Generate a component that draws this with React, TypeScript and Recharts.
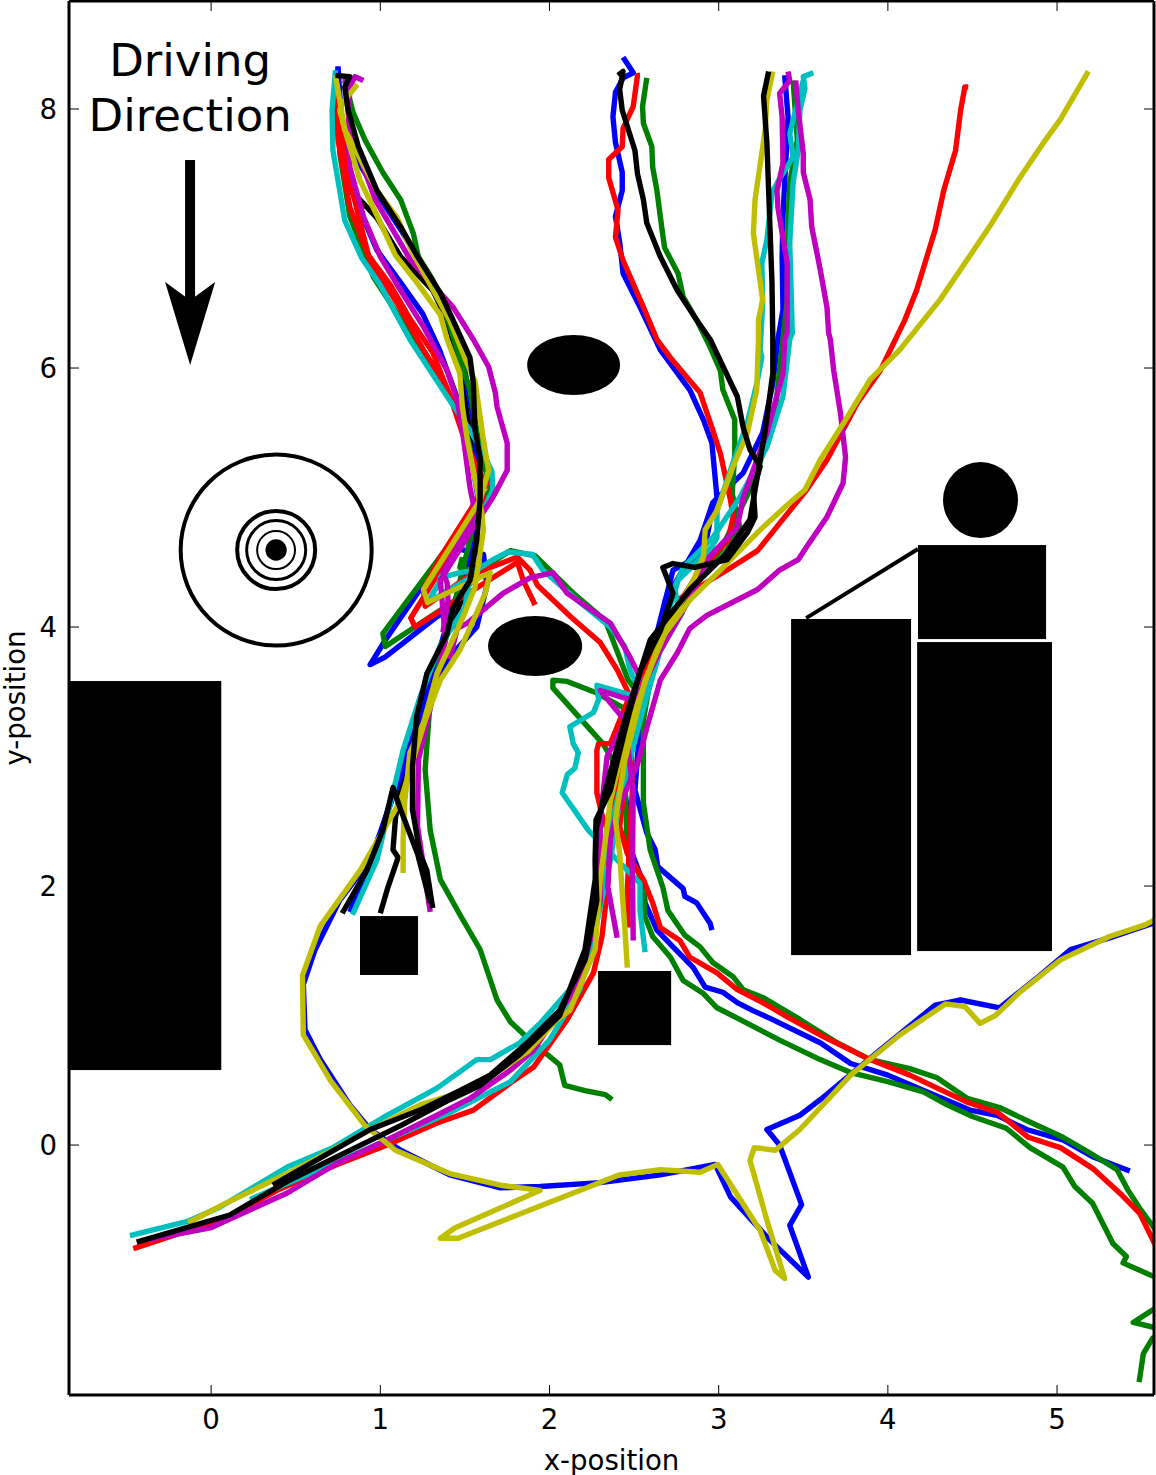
import React from "react";
import { LineChart, Line, XAxis, YAxis, ReferenceArea, ReferenceLine, ReferenceDot } from "recharts";

const xTicks = [0, 1, 2, 3, 4, 5];
const yTicks = [0, 2, 4, 6, 8];
const FONT = "'DejaVu Sans', sans-serif";

// ---- trajectories, [x-position, y-position] ----
const blueTopA = [[.75,8.33],[.745,8.07],[.79,7.76],[.88,7.57],[.98,7.35],[1.12,7.07],[1.265,6.76],[1.41,6.37],[1.5,5.98],[1.55,5.6],[1.59,5.06],[1.53,4.79],[1.235,4.29],[1.03,3.9],[.94,3.71],[1.03,3.77],[1.335,4.08],[1.425,4.15]];
const blueTopB = [[.75,8.32],[.775,7.84],[.83,7.37],[.98,6.91],[1.12,6.66],[1.25,6.42],[1.35,6.14],[1.46,5.75],[1.53,5.37],[1.58,4.98],[1.53,4.52],[1.385,3.98],[1.28,3.51],[1.12,2.9],[.97,2.28],[.82,1.8]];
const blueReturn = [[1.44,4.61],[1.61,4.56],[1.63,4.32],[1.57,4],[1.41,3.77],[1.29,3.44],[1.18,3.05],[1.09,2.74],[.94,2.2],[.76,1.89],[.615,1.51],[.545,1.24],[.555,.89],[.645,.66],[.82,.31],[.94,.12],[1.12,-.04],[1.41,-.23],[1.71,-.33],[1.945,-.32],[2.3,-.29],[2.655,-.23],[2.98,-.15],[3.07,-.4],[3.3,-.73],[3.53,-1.02],[3.42,-.62],[3.49,-.46],[3.36,0],[3.285,.12],[3.48,.23],[3.6,.35],[3.95,.73],[4.28,1.08],[4.43,1.12],[4.66,1.06],[4.9,1.31],[5.08,1.51],[5.31,1.6],[5.585,1.72]];
const blueCenter = [[2.435,8.4],[2.495,8.28],[2.435,8.24],[2.39,8.13],[2.375,7.94],[2.39,7.74],[2.43,7.51],[2.43,7.37],[2.39,7.17],[2.415,6.97],[2.435,6.73],[2.535,6.47],[2.655,6.14],[2.83,5.83],[2.91,5.6],[2.96,5.42],[2.99,5],[2.965,4.93],[2.93,4.69],[2.86,4.53],[2.73,4.44],[2.685,4.21],[2.64,3.92],[2.55,3.51],[2.535,3.26],[2.505,2.74],[2.575,2.41],[2.625,2.28],[2.64,2.15],[2.79,1.98],[2.8,1.92],[2.87,1.87],[2.95,1.71],[2.96,1.66]];
const blueRight = [[3.39,8.26],[3.41,7.94],[3.38,7.17],[3.375,6.86],[3.38,6.45],[3.35,6.22],[3.32,5.88],[3.26,5.5],[3.145,5.19],[2.965,4.96],[2.89,4.67],[2.685,4.21],[2.535,3.44],[2.445,2.74],[2.465,2.53],[2.475,2.3],[2.555,2.02],[2.565,1.87],[2.635,1.66],[2.73,1.53],[2.85,1.37],[2.92,1.22],[3.025,1.18],[3.11,1.1],[3.2,1.04],[3.3,.98],[3.6,.79],[3.78,.63],[4,.54],[4.25,.4],[4.485,.27],[4.645,.23],[4.82,.12],[5.035,.04],[5.21,-.09],[5.43,-.2]];

const greenTopA = [[.79,8.22],[.84,7.97],[.91,7.76],[1.015,7.51],[1.12,7.3],[1.195,7.04],[1.225,6.86],[1.31,6.68],[1.395,6.39],[1.455,6.14],[1.53,5.83],[1.58,5.44],[1.65,5.06],[1.015,3.95],[1.03,3.85],[1.47,4.23],[1.59,4.44],[1.77,4.59],[1.915,4.55],[2.15,4.25],[2.33,4.05],[2.465,3.59],[2.535,3.47]];
const greenTopB = [[.76,8.07],[.76,7.66],[.82,7.17],[.96,6.7],[1.1,6.42],[1.195,6.22],[1.295,6.02],[1.425,5.75],[1.52,5.44],[1.58,5.06],[1.53,4.67],[1.385,3.9],[1.295,3.44],[1.265,2.9],[1.295,2.43],[1.355,2.05],[1.47,1.78],[1.59,1.51],[1.69,1.12],[1.77,.95],[1.885,.81],[2.06,.62],[2.09,.46],[2.21,.42],[2.33,.39],[2.37,.35]];
const greenHook = [[1.485,4.54],[1.47,4.46],[1.51,4.44],[1.62,4.48]];
const greenCenter = [[2.575,8.24],[2.55,8.02],[2.555,7.89],[2.605,7.71],[2.61,7.55],[2.635,7.37],[2.665,7.07],[2.68,6.93],[2.76,6.73],[2.79,6.55],[2.87,6.37],[2.95,6.16],[3.01,5.98],[3.025,5.83],[3.095,5.6],[3.095,5.34],[3.08,5.03],[3.125,4.77],[3.025,4.54],[2.87,4.36],[2.79,4.21],[2.625,3.82],[2.555,3.28],[2.555,2.97],[2.555,2.64],[2.595,2.28],[2.67,1.99],[2.7,1.81],[2.8,1.62],[2.89,1.53],[2.965,1.41],[3.085,1.3],[3.145,1.2],[3.26,1.14],[3.48,.97],[3.7,.79],[3.895,.66],[4.13,.59],[4.29,.52],[4.47,.36],[4.66,.29],[4.82,.19],[5.035,.06],[5.18,-.05],[5.355,-.19],[5.42,-.35],[5.49,-.49],[5.585,-.66]];
const greenRight = [[3.44,8.22],[3.455,7.94],[3.465,7.76],[3.42,7.43],[3.41,7.12],[3.405,6.53],[3.335,5.68],[3.215,5.14],[3.01,4.59],[2.83,4.29],[2.655,3.9],[2.535,3.51],[2.445,3.37],[2.28,3.49],[2.105,3.58],[2.02,3.59],[2.02,3.53],[2.315,3.1],[2.445,2.82],[2.46,2.28],[2.555,2.02],[2.565,1.76],[2.61,1.61],[2.715,1.45],[2.79,1.27],[2.91,1.17],[2.99,1.06],[3.11,.98],[3.36,.81],[3.6,.66],[3.78,.56],[4,.49],[4.21,.41],[4.35,.31],[4.5,.22],[4.7,.13],[4.84,-.02],[5.035,-.17],[5.105,-.32],[5.21,-.45],[5.33,-.76],[5.41,-.86],[5.39,-.91],[5.58,-1.02],[5.7,-1.08],[5.7,-1.2],[5.58,-1.26],[5.45,-1.37],[5.58,-1.41],[5.7,-1.43],[5.565,-1.49],[5.51,-1.61],[5.5,-1.7],[5.485,-1.83]];

const redTopA = [[.75,8.15],[.735,8.07],[.75,7.76],[.82,7.24],[.94,6.83],[1.1,6.5],[1.255,6.14],[1.385,5.87],[1.47,5.6],[1.53,5.29],[1.63,5.11],[1.53,4.9],[1.355,4.54],[1.255,4.29],[1.265,4.16],[1.53,4.4],[1.81,4.54],[1.885,4.44],[1.93,4.32],[2.125,4.08],[2.3,3.88],[2.4,3.67],[2.475,3.47],[2.49,2.74],[2.475,2.43],[2.46,1.95],[2.465,1.68]];
const redTopB = [[.76,7.99],[.79,7.61],[.87,7.18],[.93,6.87],[1.06,6.64],[1.18,6.37],[1.31,6.12],[1.41,5.79],[1.5,5.44],[1.58,5.21],[1.61,4.98],[1.355,4.44],[1.18,4.07],[1.205,4],[1.81,4.5],[1.845,4.36],[1.915,4.17]];
const redRight = [[4.475,8.17],[4.455,8.17],[4.43,7.99],[4.4,7.68],[4.33,7.37],[4.28,7.07],[4.17,6.6],[4.1,6.37],[3.955,5.98],[3.82,5.73],[3.64,5.29],[3.52,5.06],[3.36,4.8],[3.23,4.59],[3.05,4.44],[2.77,4.22],[2.67,3.85],[2.535,3.59],[2.46,2.97],[2.415,2.46],[2.46,2.25],[2.555,2.05],[2.61,1.87],[2.655,1.68],[2.77,1.58],[2.83,1.45],[2.99,1.33],[3.11,1.2],[3.26,1.1],[3.405,.99],[3.6,.85],[3.895,.66],[4.13,.54],[4.47,.33],[4.65,.25],[4.83,.06],[5.02,-.02],[5.21,-.18],[5.37,-.37],[5.49,-.53],[5.61,-.85]];
const redCenter = [[2.535,8.26],[2.52,8.26],[2.495,8.02],[2.435,7.85],[2.43,7.71],[2.35,7.61],[2.35,7.47],[2.405,7.22],[2.39,7.01],[2.435,6.83],[2.555,6.47],[2.635,6.22],[2.715,6.08],[2.89,5.81],[2.965,5.52],[3.01,5.34],[3.07,4.98],[3.085,4.85],[3.055,4.67],[2.89,4.44],[2.74,4.13],[2.535,3.59],[2.445,3.13],[2.36,2.43],[2.34,1.95],[2.31,1.61],[2.26,1.33],[2.105,.97],[1.905,.6],[1.77,.48],[1.55,.27],[1.335,.17],[1.04,0],[.745,-.15],[.39,-.35],[.095,-.56],[-.46,-.8]];
const redShort = [[2.465,3.44],[2.36,3.1],[2.29,3.1],[2.28,3.05],[2.28,2.72],[2.31,2.55],[2.36,2.36]];

const cyanTopA = [[.735,8.3],[.715,7.99],[.72,7.68],[.79,7.14],[.89,6.85],[1,6.64],[1.175,6.22],[1.295,5.98],[1.41,5.75],[1.53,5.52],[1.61,5.34],[1.66,5.2],[1.665,5.06],[1.63,4.96],[1.55,4.77],[1.355,4.38],[1.47,4.42],[1.57,4.44],[1.665,4.52],[1.755,4.58],[1.9,4.56],[1.96,4.44],[2.18,4.19],[2.36,4],[2.445,3.85],[2.475,3.67],[2.52,3.54],[2.52,3.46],[2.28,3.55],[2.29,3.44],[2.26,3.34],[2.12,3.23],[2.14,3.1],[2.17,3.03],[2.15,2.91],[2.105,2.86],[2.075,2.72],[2.23,2.43],[2.535,2.02],[2.535,1.81],[2.565,1.49]];
const cyanLoop = [[1.53,4.75],[1.28,4.19],[1.53,4.38],[1.5,4.15],[1.355,3.86],[1.235,3.46],[1.135,3.05],[.98,2.2],[.835,1.78]];
const cyanRightA = [[3.56,8.28],[3.5,8.25],[3.51,8.16],[3.48,7.99],[3.47,7.68],[3.44,7.43],[3.42,6.97],[3.435,6.27],[3.42,6.22],[3.38,5.78],[3.285,5.39],[3.125,5],[2.965,4.69],[2.79,4.46],[2.74,4.31],[2.755,4.19],[2.785,4.11],[2.655,3.82],[2.535,3.28],[2.415,2.66],[2.36,2.2],[2.27,1.66],[2.24,1.51],[2.12,1.2],[1.945,.94],[1.825,.79],[1.65,.66],[1.57,.66],[1.335,.44],[1.04,.23],[.72,-.02],[.45,-.17],[.05,-.48],[-.14,-.59],[-.48,-.7]];
const cyanRightB = [[3.5,8.22],[3.42,7.81],[3.44,7.63],[3.345,7.43],[3.315,7.35],[3.285,6.99],[3.255,6.81],[3.26,6.5],[3.245,6.14],[3.255,6.08],[3.225,5.88],[3.17,5.58],[3.085,5.27],[2.99,4.9],[2.99,4.69],[2.96,4.62],[2.76,4.36],[2.655,3.9],[2.535,3.28],[2.415,2.74],[2.33,2.28],[2.27,1.66],[2.18,1.2],[2,.81],[1.77,.49],[1.41,.25],[1.04,.04],[.745,-.13],[.23,-.42]];

const magentaTopA = [[.9,8.22],[.85,8.25],[.82,8.17],[.81,7.84],[.82,7.55],[.9,7.17],[1,6.86],[1.12,6.6],[1.255,6.32],[1.395,5.98],[1.455,5.75],[1.49,5.47],[1.53,5.08],[1.56,4.88],[1.37,4.42],[1.395,4.34],[1.4,4.21],[1.37,3.96]];
const magentaTopB = [[.79,8.26],[.82,7.84],[.97,7.3],[1.18,6.83],[1.34,6.6],[1.43,6.47],[1.55,6.22],[1.64,6.01],[1.68,5.81],[1.69,5.7],[1.75,5.42],[1.75,5.21],[1.665,5],[1.55,4.77],[1.355,4.36],[1.385,3.9],[1.31,3.46],[1.225,2.97],[1.22,2.46],[1.295,1.8]];
const magentaArc = [[1.41,3.75],[1.455,3.99],[1.515,4.03],[1.725,4.26],[1.885,4.38],[2.02,4.42],[2.105,4.26],[2.36,4.03],[2.475,3.77],[2.535,3.61],[2.475,3.44],[2.3,3.51],[2.445,3.28],[2.495,2.72],[2.49,2.12],[2.495,1.58]];
const magentaRightA = [[3.41,8.29],[3.42,8.22],[3.36,8.12],[3.375,7.94],[3.38,7.58],[3.345,7.37],[3.35,7.24],[3.405,6.81],[3.405,6.27],[3.39,6.22],[3.38,5.96],[3.285,5.5],[3.145,5],[3.11,4.77],[2.93,4.52],[2.86,4.29],[2.655,3.82],[2.445,3.26],[2.34,3],[2.3,2.51],[2.3,1.89],[2.23,1.53],[2.165,1.22],[2.03,.98],[1.905,.73],[1.77,.58],[1.53,.36],[1.335,.23],[1.04,.04],[.745,-.14],[.45,-.37],[.13,-.56],[-.005,-.64],[-.37,-.73]];
const magentaRightB = [[3.455,8.22],[3.47,7.99],[3.5,7.66],[3.5,7.51],[3.54,7.3],[3.55,7.09],[3.6,6.76],[3.64,6.47],[3.65,6.27],[3.66,6.22],[3.68,5.98],[3.72,5.65],[3.75,5.31],[3.735,5.11],[3.64,4.85],[3.52,4.62],[3.47,4.52],[3.36,4.44],[3.23,4.29],[2.93,4.09],[2.83,3.99],[2.755,3.8],[2.655,3.59],[2.575,3.22],[2.52,2.94],[2.4,2.58],[2.36,2.37],[2.345,1.99],[2.4,1.6]];

const yellowTopA = [[.865,8.19],[.79,8.07],[.76,7.99],[.79,7.84],[.88,7.45],[.98,7.18],[1.09,6.87],[1.205,6.68],[1.355,6.41],[1.395,6.22],[1.47,5.96],[1.485,5.7],[1.515,5.44],[1.56,5.14],[1.6,4.88],[1.61,4.75],[1.56,4.31],[1.49,4.08],[1.41,3.85],[1.335,3.64],[1.255,3.26],[1.175,3.03],[1.145,2.66],[1.135,2.36],[1.135,2.1]];
const yellowTopB = [[.735,8.26],[.79,7.84],[.98,7.37],[1.1,7.16],[1.195,6.88],[1.41,6.37],[1.53,5.98],[1.56,5.9],[1.61,5.44],[1.64,5.21],[1.59,4.98],[1.255,4.29],[1.28,4.19],[1.65,4.42],[1.62,4.26],[1.56,4.08],[1.47,3.82],[1.355,3.59],[1.265,3.28],[1.12,2.66],[.88,2.12],[.645,1.69],[.54,1.31],[.545,.85],[.705,.5],[.91,.15],[1.09,-.04],[1.41,-.22],[1.71,-.31],[1.945,-.35],[1.44,-.64],[1.355,-.72],[1.46,-.72],[2.415,-.23],[2.655,-.19],[2.89,-.21],[2.995,-.15],[3.245,-.66],[3.335,-.97],[3.39,-1.03],[3.285,-.58],[3.185,-.12],[3.21,-.02],[3.335,-.04],[3.48,.12],[3.78,.54],[4.07,.85],[4.34,1.09],[4.455,1.07],[4.545,.94],[4.635,1],[4.78,1.18],[5.02,1.43],[5.31,1.61],[5.52,1.7],[5.61,1.76]];
const yellowCenter = [[3.32,8.29],[3.285,8.07],[3.275,7.84],[3.255,7.66],[3.215,7.3],[3.205,7.04],[3.235,6.76],[3.26,6.53],[3.235,6.37],[3.235,6.22],[3.225,5.83],[3.17,5.5],[3.085,5.24],[2.99,4.9],[2.92,4.75],[2.91,4.54],[2.85,4.36],[2.715,4.05],[2.565,3.59],[2.445,2.97],[2.39,2.51],[2.415,2.25],[2.43,1.95],[2.445,1.68],[2.46,1.37]];
const yellowRight = [[5.185,8.29],[5.02,7.92],[4.92,7.74],[4.78,7.47],[4.605,7.1],[4.43,6.76],[4.31,6.53],[4.07,6.14],[3.895,5.91],[3.75,5.6],[3.6,5.29],[3.51,5.06],[3.42,4.96],[3.245,4.75],[3.01,4.44],[2.83,4.21],[2.655,3.9],[2.445,3.13],[2.36,2.66],[2.3,2.05],[2.27,1.51],[2.12,1.04],[2.045,.97],[1.87,.72],[1.71,.58],[1.43,.39],[1.235,.31],[.96,.13],[.745,-.02],[.45,-.22],[.07,-.46],[-.135,-.6]];

const blackTopA = [[.735,8.26],[.82,8.25],[.79,8.17],[.81,7.99],[.87,7.71],[.98,7.37],[1.12,7.09],[1.22,6.86],[1.355,6.58],[1.43,6.37],[1.53,6.08],[1.55,5.88],[1.56,5.52],[1.59,5.31],[1.59,4.98],[1.57,4.67],[1.53,4.36],[1.43,4.15],[1.395,3.95],[1.275,3.64],[1.215,3.31],[1.19,2.92],[1.19,2.59],[1.235,2.25],[1.275,2.12],[1.31,1.83]];
const blackTopB = [[.735,7.99],[.79,7.53],[.865,7.32],[.98,7.16],[1.12,6.86],[1.31,6.6],[1.395,6.37],[1.47,5.98],[1.53,5.52],[1.58,5.06],[1.53,4.36],[1.355,3.82],[1.265,3.44],[1.22,3.31],[1.13,2.8],[1.09,2.53],[1.075,2.28],[1.105,2.22],[1.045,1.99],[1,1.79]];
const blackLow = [[.775,1.79],[.92,2.12],[1.015,2.43],[1.075,2.76],[1.12,2.59],[1.22,2.25],[1.295,1.87]];
const blackCenter = [[2.405,8.26],[2.435,8.29],[2.415,8.15],[2.43,7.99],[2.505,7.68],[2.52,7.5],[2.555,7.3],[2.575,7.12],[2.655,6.86],[2.755,6.6],[2.87,6.37],[2.95,6.22],[3.11,5.78],[3.145,5.54],[3.185,5.37],[3.245,5.24],[3.205,5.06],[3.215,4.85],[3.17,4.73],[3.05,4.52],[2.86,4.46],[2.73,4.49],[2.67,4.46],[2.73,4.26],[2.655,3.97],[2.535,3.66],[2.445,3.2],[2.36,2.74],[2.275,2.51],[2.27,2.2],[2.28,1.89],[2.21,1.43],[2.06,1.04],[1.885,.81],[1.65,.54],[1.47,.42],[1.235,.27],[.94,.12],[.365,-.31]];
const blackRight = [[3.295,8.29],[3.265,8.1],[3.285,7.74],[3.315,6.66],[3.32,6.22],[3.32,5.96],[3.275,5.52],[3.215,5.06],[3.185,4.83],[3.04,4.56],[2.83,4.29],[2.595,3.9],[2.445,3.28],[2.33,2.74],[2.275,2.43],[2.27,2.05],[2.21,1.51],[2.06,1],[1.825,.7],[1.59,.46],[1.41,.35],[1.12,.15],[.76,-.08],[.465,-.27],[.11,-.54],[-.44,-.75]];

const BLUE = "#0000ff", GREEN = "#008000", RED = "#ff0000", CYAN = "#00bfbf", MAGENTA = "#bf00bf", YELLOW = "#bfbf00", BLACK = "#000000";

const tracks: [string, number[][]][] = [
  [BLACK, blackTopB],
  [BLUE, blueTopA], [BLUE, blueTopB], [BLUE, blueReturn], [BLUE, blueCenter], [BLUE, blueRight],
  [GREEN, greenTopA], [GREEN, greenTopB], [GREEN, greenHook], [GREEN, greenCenter], [GREEN, greenRight],
  [RED, redTopA], [RED, redTopB], [RED, redRight], [RED, redCenter], [RED, redShort],
  [CYAN, cyanTopA], [CYAN, cyanLoop], [CYAN, cyanRightB], [CYAN, cyanRightA],
  [MAGENTA, magentaTopA], [MAGENTA, magentaTopB], [MAGENTA, magentaArc], [MAGENTA, magentaRightA], [MAGENTA, magentaRightB],
  [YELLOW, yellowTopA], [YELLOW, yellowTopB], [YELLOW, yellowCenter], [YELLOW, yellowRight],
  [BLACK, blackTopA], [BLACK, blackLow], [BLACK, blackCenter], [BLACK, blackRight],
];

// ---- obstacles: x1, x2, y1, y2 ----
const boxes = [
  [-0.84, 0.06, 0.579, 3.583],
  [0.88, 1.223, 1.313, 1.768],
  [2.287, 2.719, 0.772, 1.344],
  [3.428, 4.137, 1.467, 4.062],
  [4.173, 4.97, 1.498, 3.884],
  [4.178, 4.935, 3.907, 4.633],
];
const discs = [
  [4.326, 4.769, 4.687, 5.274],
  [1.868, 2.417, 5.792, 6.255],
  [1.637, 2.193, 3.622, 4.085],
  [0.321, 0.447, 4.512, 4.677],
];
const rings: [number, number, number, number, number][] = [
  [-0.18, 0.949, 3.857, 5.332, 4],
  [0.154, 0.615, 4.293, 4.896, 4],
  [0.21, 0.559, 4.367, 4.822, 3],
  [0.272, 0.496, 4.448, 4.741, 2],
];
const wire = [{ x: 3.517, y: 4.069 }, { x: 4.178, y: 4.602 }] as any;
const arrowShaft = [-0.154, -0.095, 6.525, 7.606];
const arrowHead = [-0.272, 0.024, 6.023, 6.664];
const titleLines: [string, number][] = [["Driving", 8.378], ["Direction", 7.954]];
const titleX = -0.124;

const ellipseShape = (fill: string, stroke: string, sw: number) => (p: any) => (
  <ellipse cx={p.x + p.width / 2} cy={p.y + p.height / 2} rx={p.width / 2} ry={p.height / 2} fill={fill} stroke={stroke} strokeWidth={sw} />
);
const headShape = (p: any) => (
  <polygon
    points={`${p.x},${p.y} ${p.x + p.width / 2},${p.y + p.height * 0.22} ${p.x + p.width},${p.y} ${p.x + p.width / 2},${p.y + p.height}`}
    fill="#000"
  />
);
const boxShape = (p: any) => <rect x={p.x} y={p.y} width={p.width} height={p.height} fill="#000" />;

const xDomain: [number, number] = [-0.84, 5.573];
const yDomain: [number, number] = [-1.93, 8.834];
const tickLenX = 0.059;
const tickLenY = 0.077;
const FS = 27.6;
const tickStyle = { fontSize: FS, fill: "#000", fontFamily: FONT };
const spine = { stroke: "#000", strokeWidth: 3 };
const tickLine = { stroke: "#000", strokeWidth: 1 };

export default function App() {
  return (
    <div style={{ position: "absolute", left: 0, top: 0, width: 1156, height: 1475, background: "#fff", fontFamily: FONT }}>
      <LineChart width={1156} height={1475} margin={{ top: 1, right: 2, bottom: 0, left: 0 }}>
        <XAxis
          type="number" dataKey="x" domain={xDomain} ticks={xTicks} interval={0} allowDataOverflow
          height={80} tick={tickStyle} axisLine={spine} tickLine={tickLine} tickSize={-10} tickMargin={24}
          label={{ value: "x-position", position: "insideBottom", offset: 5, fontSize: FS, fill: "#000", fontFamily: FONT }}
        />
        <YAxis
          type="number" domain={yDomain} ticks={yTicks} interval={0} allowDataOverflow
          width={69} tick={tickStyle} axisLine={spine} tickLine={tickLine} tickSize={-10} tickMargin={22}
          label={{ value: "y-position", angle: -90, position: "insideLeft", offset: 15, fontSize: FS, fill: "#000", fontFamily: FONT, style: { textAnchor: "middle" } }}
        />
        {boxes.map((b, i) => (
          <ReferenceArea key={"b" + i} x1={b[0]} x2={b[1]} y1={b[2]} y2={b[3]} shape={boxShape} />
        ))}
        {discs.map((d, i) => (
          <ReferenceArea key={"d" + i} x1={d[0]} x2={d[1]} y1={d[2]} y2={d[3]} shape={ellipseShape("#000", "none", 0)} />
        ))}
        {rings.map((r, i) => (
          <ReferenceArea key={"r" + i} x1={r[0]} x2={r[1]} y1={r[2]} y2={r[3]} shape={ellipseShape("none", "#000", r[4])} />
        ))}
        <ReferenceLine segment={wire} stroke="#000" strokeWidth={4} />
        <ReferenceArea x1={arrowShaft[0]} x2={arrowShaft[1]} y1={arrowShaft[2]} y2={arrowShaft[3]} shape={boxShape} />
        <ReferenceArea x1={arrowHead[0]} x2={arrowHead[1]} y1={arrowHead[2]} y2={arrowHead[3]} shape={headShape} />
        {titleLines.map(([t, y]) => (
          <ReferenceDot
            key={t} x={titleX} y={y} r={0} stroke="none" fill="none"
            label={{ value: t, position: "center", fontSize: 45, fill: "#000", fontFamily: FONT }}
          />
        ))}
        {tracks.map(([color, pts], i) => (
          <Line
            key={i}
            data={pts.map(([x, y]) => ({ x, y }))}
            dataKey="y"
            type="linear"
            stroke={color}
            strokeWidth={5.4}
            strokeLinejoin="round"
            dot={false}
            activeDot={false}
            legendType="none"
            isAnimationActive={false}
          />
        ))}
        <ReferenceLine y={yDomain[1]} stroke="#000" strokeWidth={3} ifOverflow="visible" />
        <ReferenceLine x={xDomain[1]} stroke="#000" strokeWidth={3} ifOverflow="visible" />
        {xTicks.map((t) => (
          <ReferenceLine key={"tx" + t} segment={[{ x: t, y: yDomain[1] }, { x: t, y: yDomain[1] - tickLenY }] as any} stroke="#000" strokeWidth={1} />
        ))}
        {yTicks.map((t) => (
          <ReferenceLine key={"ty" + t} segment={[{ x: xDomain[1], y: t }, { x: xDomain[1] - tickLenX, y: t }] as any} stroke="#000" strokeWidth={1} />
        ))}
      </LineChart>
    </div>
  );
}
